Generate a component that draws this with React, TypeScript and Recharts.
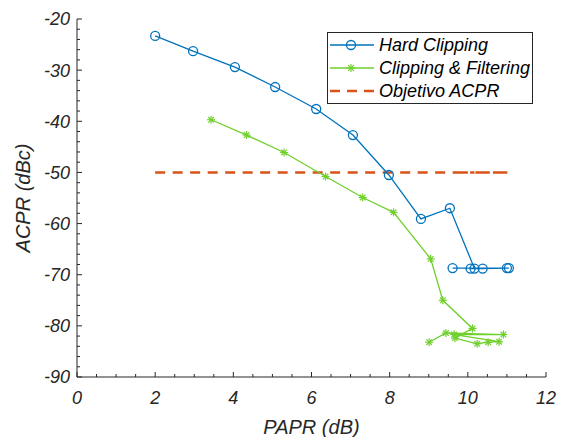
import React from 'react';
import { LineChart, Line, XAxis, YAxis, Legend, Label } from 'recharts';

// PAPR (dB) / ACPR (dBc), in plotting order
const hardPapr = [2.0, 2.97, 4.04, 5.07, 6.12, 7.06, 7.98, 8.8, 9.54, 10.17, 10.07, 10.38, 11.0, 11.05, 9.61];
const hardAcpr = [-23.3, -26.3, -29.4, -33.3, -37.6, -42.7, -50.5, -59.1, -57.0, -68.8, -68.8, -68.8, -68.7, -68.7, -68.7];

const filtPapr = [3.43, 4.34, 5.3, 6.36, 7.31, 8.1, 9.05, 9.36, 10.12, 9.67, 10.24, 10.52, 10.8, 9.65, 10.91, 9.44, 9.01];
const filtAcpr = [-39.7, -42.7, -46.1, -50.8, -54.9, -57.8, -66.9, -75.0, -80.5, -82.4, -83.5, -83.2, -83.1, -81.7, -81.7, -81.4, -83.2];

// target line uses the same PAPR points as hard clipping
const objPapr = hardPapr;
const objAcpr = [-50, -50, -50, -50, -50, -50, -50, -50, -50, -50, -50, -50, -50, -50, -50];

const xMajorTicks = [0, 2, 4, 6, 8, 10, 12];
const yMajorTicks = [-90, -80, -70, -60, -50, -40, -30, -20];

const seriesNames = ['Hard Clipping', 'Clipping & Filtering', 'Objetivo ACPR'];

const BLUE = '#0072BD';
const GREEN = '#6FD02C';
const ORANGE = '#D95319';
const AXIS = '#262626';
const FONT = '"Liberation Sans", Arial, sans-serif';

const toPoints = (xs: number[], ys: number[]) => xs.map((x, i) => ({ x, y: ys[i] }));
const hardData = toPoints(hardPapr, hardAcpr);
const filtData = toPoints(filtPapr, filtAcpr);
const objData = toPoints(objPapr, objAcpr);

// minor tick positions between the labelled ones
const xMinorTicks = Array.from({ length: 25 }, (_, i) => i * 0.5);
const yMinorTicks = Array.from({ length: 36 }, (_, i) => -90 + i * 2);

const CircleDot = (props: any) => {
  const { cx, cy, index } = props;
  if (cx == null || cy == null) return <g key={`c-${index}`} />;
  return <circle key={`c-${index}`} cx={cx} cy={cy} r={4.5} fill="none" stroke={BLUE} strokeWidth={1.3} />;
};

const Asterisk = ({ cx, cy, color, r = 4 }: { cx: number; cy: number; color: string; r?: number }) => {
  const d = r * 0.7;
  return (
    <g stroke={color} strokeWidth={1.2}>
      <line x1={cx - r} y1={cy} x2={cx + r} y2={cy} />
      <line x1={cx} y1={cy - r} x2={cx} y2={cy + r} />
      <line x1={cx - d} y1={cy - d} x2={cx + d} y2={cy + d} />
      <line x1={cx - d} y1={cy + d} x2={cx + d} y2={cy - d} />
    </g>
  );
};

const StarDot = (props: any) => {
  const { cx, cy, index } = props;
  if (cx == null || cy == null) return <g key={`s-${index}`} />;
  return (
    <g key={`s-${index}`}>
      <Asterisk cx={cx} cy={cy} color={GREEN} />
    </g>
  );
};

const tickText = { fontFamily: FONT, fontStyle: 'italic', fontSize: 18, fill: AXIS };

const BottomTick = (props: any) => {
  const { x, y, payload } = props;
  const major = xMajorTicks.includes(payload.value);
  return (
    <g>
      <line x1={x} x2={x} y1={y} y2={y - (major ? 5 : 3)} stroke={AXIS} />
      {major && (
        <text x={x} y={y + 27} textAnchor="middle" {...tickText}>
          {payload.value}
        </text>
      )}
    </g>
  );
};

const TopTick = (props: any) => {
  const { x, y, payload } = props;
  const major = xMajorTicks.includes(payload.value);
  return <line x1={x} x2={x} y1={y} y2={y + (major ? 5 : 3)} stroke={AXIS} />;
};

const LeftTick = (props: any) => {
  const { x, y, payload } = props;
  const major = yMajorTicks.includes(payload.value);
  return (
    <g>
      <line x1={x} x2={x + (major ? 5 : 3)} y1={y} y2={y} stroke={AXIS} />
      {major && (
        <text x={x - 7} y={y + 6.4} textAnchor="end" {...tickText}>
          {payload.value}
        </text>
      )}
    </g>
  );
};

const RightTick = (props: any) => {
  const { x, y, payload } = props;
  const major = yMajorTicks.includes(payload.value);
  return <line x1={x} x2={x - (major ? 5 : 3)} y1={y} y2={y} stroke={AXIS} />;
};

const LegendBox = () => {
  const rows = [13, 36, 59];
  return (
    <svg width={206} height={72} style={{ display: 'block' }}>
      <rect x={0.5} y={0.5} width={205} height={71} fill="#fff" stroke={AXIS} strokeWidth={1} />
      <line x1={3} x2={47} y1={rows[0]} y2={rows[0]} stroke={BLUE} strokeWidth={1.3} />
      <circle cx={24} cy={rows[0]} r={4.5} fill="none" stroke={BLUE} strokeWidth={1.3} />
      <line x1={3} x2={47} y1={rows[1]} y2={rows[1]} stroke={GREEN} strokeWidth={1.3} />
      <Asterisk cx={24} cy={rows[1]} color={GREEN} />
      <line x1={3} x2={47} y1={rows[2]} y2={rows[2]} stroke={ORANGE} strokeWidth={2.5} strokeDasharray="10 7" />
      {seriesNames.map((name, i) => (
        <text key={name} x={52} y={rows[i] + 6.4} fontFamily={FONT} fontStyle="italic" fontSize={18} fill="#000">
          {name}
        </text>
      ))}
    </svg>
  );
};

const App: React.FC = () => {
  return (
    <div style={{ position: 'absolute', left: 0, top: 0, background: '#fff' }}>
      <LineChart width={565} height={437} margin={{ top: 19, right: 19, bottom: 0, left: 0 }}>
        <XAxis
          xAxisId={0}
          dataKey="x"
          type="number"
          domain={[0, 12]}
          ticks={xMinorTicks}
          interval={0}
          allowDataOverflow
          height={60}
          tickLine={false}
          tickSize={0}
          tickMargin={0}
          axisLine={{ stroke: AXIS }}
          tick={BottomTick}
        >
          <Label
            content={(p: any) => {
              const vb = p.viewBox || { x: 77, y: 377, width: 469 };
              return (
                <text x={vb.x + vb.width / 2} y={vb.y + 57} textAnchor="middle" fontFamily={FONT} fontStyle="italic" fontSize={20} fill={AXIS}>
                  PAPR (dB)
                </text>
              );
            }}
          />
        </XAxis>
        <XAxis
          xAxisId="top"
          orientation="top"
          dataKey="x"
          type="number"
          domain={[0, 12]}
          ticks={xMinorTicks}
          interval={0}
          allowDataOverflow
          height={0}
          tickLine={false}
          tickSize={0}
          tickMargin={0}
          axisLine={{ stroke: AXIS }}
          tick={TopTick}
        />
        <YAxis
          yAxisId={0}
          type="number"
          domain={[-90, -20]}
          ticks={yMinorTicks}
          interval={0}
          allowDataOverflow
          width={77}
          tickLine={false}
          tickSize={0}
          tickMargin={0}
          axisLine={{ stroke: AXIS }}
          tick={LeftTick}
        >
          <Label
            content={(p: any) => {
              const vb = p.viewBox || { x: 0, y: 19, width: 77, height: 358 };
              return (
                <text
                  transform={`translate(30, ${vb.y + vb.height / 2}) rotate(-90)`}
                  textAnchor="middle"
                  fontFamily={FONT}
                  fontStyle="italic"
                  fontSize={20}
                  fill={AXIS}
                >
                  ACPR (dBc)
                </text>
              );
            }}
          />
        </YAxis>
        <YAxis
          yAxisId="right"
          orientation="right"
          type="number"
          domain={[-90, -20]}
          ticks={yMinorTicks}
          interval={0}
          allowDataOverflow
          width={0}
          tickLine={false}
          tickSize={0}
          tickMargin={0}
          axisLine={{ stroke: AXIS }}
          tick={RightTick}
        />
        <Line
          data={objData}
          dataKey="y"
          name={seriesNames[2]}
          type="linear"
          stroke={ORANGE}
          strokeWidth={2.5}
          strokeDasharray="10 7.5"
          dot={false}
          activeDot={false}
          isAnimationActive={false}
        />
        <Line
          data={hardData}
          dataKey="y"
          name={seriesNames[0]}
          type="linear"
          stroke={BLUE}
          strokeWidth={1.3}
          dot={CircleDot}
          activeDot={false}
          isAnimationActive={false}
        />
        <Line
          data={filtData}
          dataKey="y"
          name={seriesNames[1]}
          type="linear"
          stroke={GREEN}
          strokeWidth={1.3}
          dot={StarDot}
          activeDot={false}
          isAnimationActive={false}
        />
        <Legend
          layout="vertical"
          align="center"
          verticalAlign="middle"
          wrapperStyle={{ position: 'absolute', left: 327, top: 32, width: 206, height: 72 }}
          content={() => <LegendBox />}
        />
      </LineChart>
    </div>
  );
};

export default App;
